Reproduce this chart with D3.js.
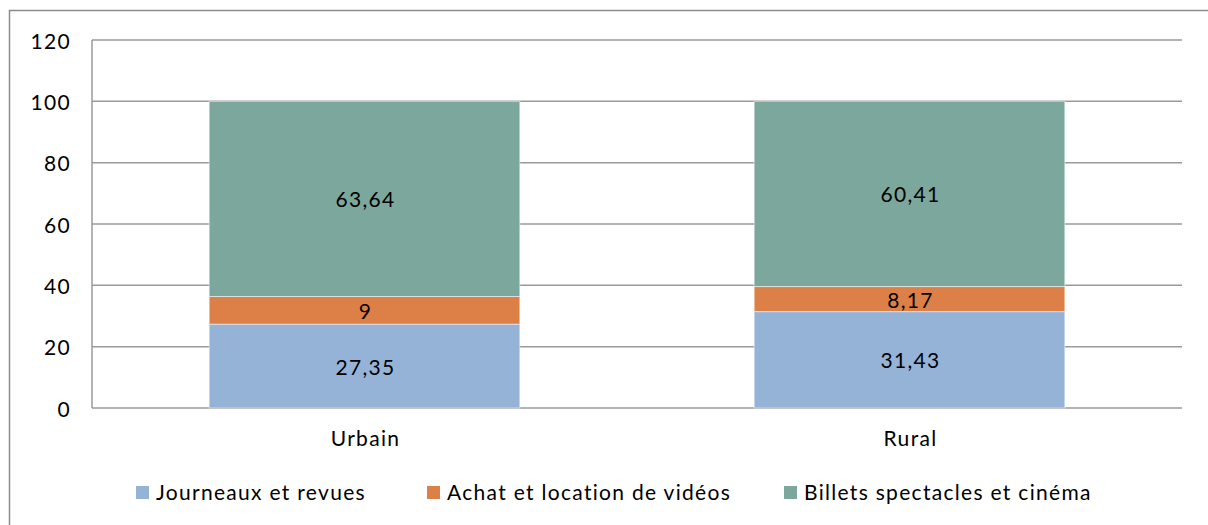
<!DOCTYPE html>
<html lang="fr">
<head>
  <meta charset="UTF-8">
  <title>Dépenses culturelles</title>
  <style>
    body { margin: 0; background: #fff; }
    text { font-family: Lato, "Open Sans", sans-serif; fill: #000; letter-spacing: 1.3px; }
  </style>
</head>
<body>
  <svg id="container" width="1208" height="525"></svg>
</body>
<script src="https://cdn.jsdelivr.net/npm/d3@7"></script>
<script>
  // data
  let categories = ["Urbain", "Rural"]
  let seriesNames = ["Journeaux et revues", "Achat et location de vidéos", "Billets spectacles et cinéma"]
  let journeaux = [27.35, 31.43]
  let videos = [9, 8.17]
  let billets = [63.64, 60.41]
  let yTicks = [0, 20, 40, 60, 80, 100, 120]
  let colors = ["#95b3d7", "#dd8047", "#7ba79d"]

  let svg = d3.select("#container")

  // outer frame (runs off the right and bottom edge)
  svg.append("rect")
     .attr("x", 9.5).attr("y", 10.5)
     .attr("width", 1300).attr("height", 600)
     .attr("fill", "none").attr("stroke", "#8c8c8c").attr("stroke-width", 1.5)

  let plotLeft = 92, plotRight = 1182, plotTop = 40, plotBottom = 408

  let x = d3.scaleBand().domain(categories).range([plotLeft, plotRight])
            .paddingInner(0.43).paddingOuter(0.215)
  let y = d3.scaleLinear().domain([0, 120]).range([plotBottom, plotTop])

  // grid lines
  svg.append("g").selectAll("line")
     .data(yTicks)
     .enter().append("line")
     .attr("x1", plotLeft).attr("x2", plotRight)
     .attr("y1", d => y(d)).attr("y2", d => y(d))
     .attr("stroke", "#9a9a9a").attr("stroke-width", 1.5)

  svg.append("line")
     .attr("x1", plotLeft).attr("x2", plotLeft)
     .attr("y1", plotTop).attr("y2", plotBottom)
     .attr("stroke", "#9a9a9a").attr("stroke-width", 1.5)

  // y tick labels
  svg.append("g").selectAll("text")
     .data(yTicks)
     .enter().append("text")
     .attr("x", 71).attr("y", d => y(d))
     .attr("text-anchor", "end").attr("dominant-baseline", "central")
     .style("font-size", "21px")
     .text(d => d)

  // stacked bars
  let rows = categories.map((c, i) => ({cat: c, s0: journeaux[i], s1: videos[i], s2: billets[i]}))
  let stack = d3.stack().keys(["s0", "s1", "s2"])
  let layers = stack(rows)
  let fmt = v => String(v).replace(".", ",")

  let layer = svg.append("g").selectAll("g")
                 .data(layers)
                 .enter().append("g")
                 .attr("fill", (d, i) => colors[i])

  layer.selectAll("rect")
       .data(d => d)
       .enter().append("rect")
       .attr("x", d => x(d.data.cat))
       .attr("width", x.bandwidth())
       .attr("y", d => y(d[1]))
       .attr("height", d => y(d[0]) - y(d[1]))
       .attr("stroke", "#ffffff").attr("stroke-opacity", 0.5).attr("stroke-width", 1)

  layer.selectAll("text")
       .data(d => d.map(p => ({p: p, key: d.key})))
       .enter().append("text")
       .attr("x", d => x(d.p.data.cat) + x.bandwidth() / 2 + 1)
       .attr("y", d => (y(d.p[0]) + y(d.p[1])) / 2)
       .attr("text-anchor", "middle").attr("dominant-baseline", "central")
       .style("font-size", "21px")
       .text(d => fmt(d.p.data[d.key]))

  // category labels
  svg.append("g").selectAll("text")
     .data(categories)
     .enter().append("text")
     .attr("x", d => x(d) + x.bandwidth() / 2 + 1)
     .attr("y", 446)
     .attr("text-anchor", "middle")
     .style("font-size", "21px")
     .text(d => d)

  // legend
  let legendX = [136, 427, 784]
  let legend = svg.append("g").selectAll("g")
                  .data(seriesNames)
                  .enter().append("g")
                  .attr("transform", (d, i) => `translate(${legendX[i]},486)`)

  legend.append("rect").attr("width", 13).attr("height", 13).attr("fill", (d, i) => colors[i])
  legend.append("text").attr("x", 20).attr("y", 14)
        .style("font-size", "21px")
        .text(d => d)
</script>
</html>
